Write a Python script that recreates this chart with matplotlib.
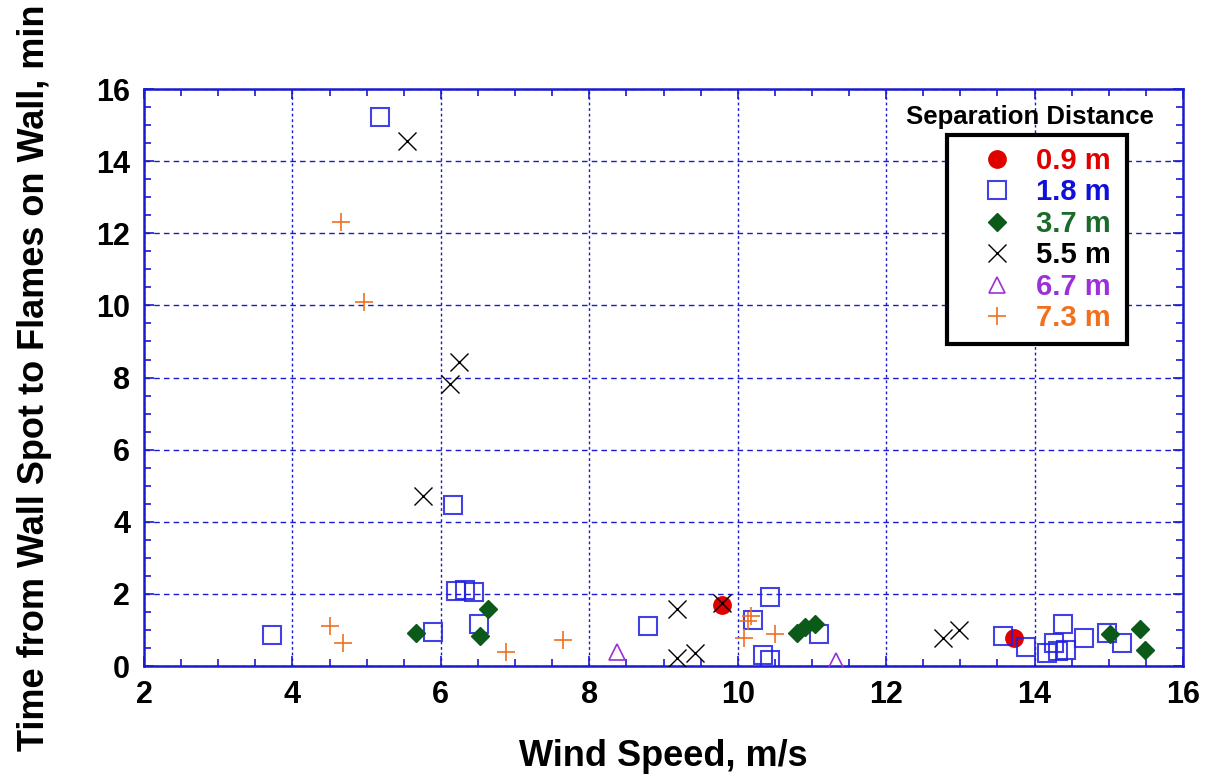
import matplotlib
matplotlib.use("Agg")
import matplotlib.pyplot as plt
from matplotlib.ticker import MultipleLocator

plt.rcParams['font.family'] = ['Liberation Sans', 'DejaVu Sans']
plt.rcParams['font.weight'] = 'bold'

# wind speed (m/s) and time from wall spot to flames on wall (min), per separation distance
x_09 = [9.79, 13.72]
y_09 = [1.69, 0.77]

x_18 = [3.72, 5.18, 5.89, 6.16, 6.21, 6.33, 6.44, 6.51, 8.79, 10.20, 10.43, 10.34,
        10.43, 11.09, 13.57, 13.89, 14.17, 14.26, 14.32, 14.38, 14.43, 14.67, 14.97, 15.18]
y_18 = [0.86, 15.23, 0.95, 4.46, 2.09, 2.11, 2.06, 1.16, 1.11, 1.28, 1.92, 0.31,
        0.17, 0.89, 0.83, 0.54, 0.37, 0.65, 0.43, 1.16, 0.44, 0.77, 0.91, 0.65]

x_37 = [5.67, 6.53, 6.63, 10.80, 10.90, 11.04, 15.01, 15.42, 15.49]
y_37 = [0.93, 0.83, 1.58, 0.91, 1.07, 1.16, 0.89, 1.02, 0.44]

x_55 = [5.54, 5.76, 6.12, 6.24, 9.18, 9.18, 9.43, 9.79, 12.77, 12.98]
y_55 = [14.56, 4.71, 7.81, 8.44, 1.57, 0.21, 0.37, 1.76, 0.77, 1.00]

x_67 = [8.37, 11.33]
y_67 = [0.40, 0.13]

x_73 = [4.50, 4.68, 4.66, 4.97, 6.88, 7.65, 10.09, 10.14, 10.18, 10.50]
y_73 = [1.11, 0.65, 12.32, 10.10, 0.40, 0.72, 0.77, 1.26, 1.39, 0.88]

labels = ['0.9 m', '1.8 m', '3.7 m', '5.5 m', '6.7 m', '7.3 m']
text_colors = ['#e00000', '#1010d8', '#1a6b2a', '#000000', '#9b30d8', '#f07020']

axis_blue = '#1a1ad0'

fig = plt.figure(figsize=(12.1, 7.79), dpi=100)
ax = fig.add_axes([0.119, 0.145, 0.8587, 0.7407])

ax.plot(x_09, y_09, 'o', ms=12.5, color='#e00000', mec='#e00000', label=labels[0], zorder=3)
ax.plot(x_18, y_18, 's', ms=12.5, color='#2020e0', mfc='none', mew=1.5, alpha=0.85, label=labels[1], zorder=3)
ax.plot(x_37, y_37, 'D', ms=9, color='#0b5a1a', label=labels[2], zorder=3)
ax.plot(x_55, y_55, 'x', ms=12.5, color='black', mew=1.0, label=labels[3], zorder=4)
ax.plot(x_67, y_67, '^', ms=12, color='#9b30d8', mfc='none', mew=1.2, label=labels[4], zorder=3)
ax.plot(x_73, y_73, '+', ms=13, color='#f07020', mew=1.2, label=labels[5], zorder=3)

ax.set_xlim(2, 16)
ax.set_ylim(0, 16)
ax.xaxis.set_major_locator(MultipleLocator(2))
ax.yaxis.set_major_locator(MultipleLocator(2))
ax.xaxis.set_minor_locator(MultipleLocator(0.5))
ax.yaxis.set_minor_locator(MultipleLocator(0.5))

ax.xaxis.grid(True, which='major', color=axis_blue, linestyle=(0, (2, 2)), linewidth=1.0)
ax.yaxis.grid(True, which='major', color=axis_blue, linestyle=(0, (4, 3)), linewidth=1.0)
ax.set_axisbelow(True)

for sp in ax.spines.values():
    sp.set_color(axis_blue)
    sp.set_linewidth(1.8)

ax.tick_params(which='both', direction='in', top=True, right=True, color=axis_blue)
ax.tick_params(which='major', length=7, width=1.2, labelsize=22, pad=10)
ax.tick_params(which='minor', length=5, width=1.2)
for t in ax.get_xticklabels() + ax.get_yticklabels():
    t.set_fontweight('bold')

ax.set_xlabel('Wind Speed, m/s', fontsize=26, fontweight='bold', labelpad=21)
ax.set_ylabel('Time from Wall Spot to Flames on Wall, min', fontsize=26, fontweight='bold', labelpad=32)

ax.text(0.853, 0.951, 'Separation Distance', transform=ax.transAxes, ha='center', va='center',
        fontsize=18.5, fontweight='bold')

leg = ax.legend(loc='upper left', bbox_to_anchor=(0.773, 0.920, 0.173, 0.0), mode='expand',
                borderaxespad=0, fontsize=21, frameon=True, fancybox=False, edgecolor='black',
                framealpha=1, handletextpad=0.05, borderpad=0.4, labelspacing=0.12, handlelength=2.6)
leg.get_frame().set_linewidth(3)
for txt, c in zip(leg.get_texts(), text_colors):
    txt.set_color(c)
    txt.set_fontweight('bold')

fig.savefig('out.png', dpi=100)
